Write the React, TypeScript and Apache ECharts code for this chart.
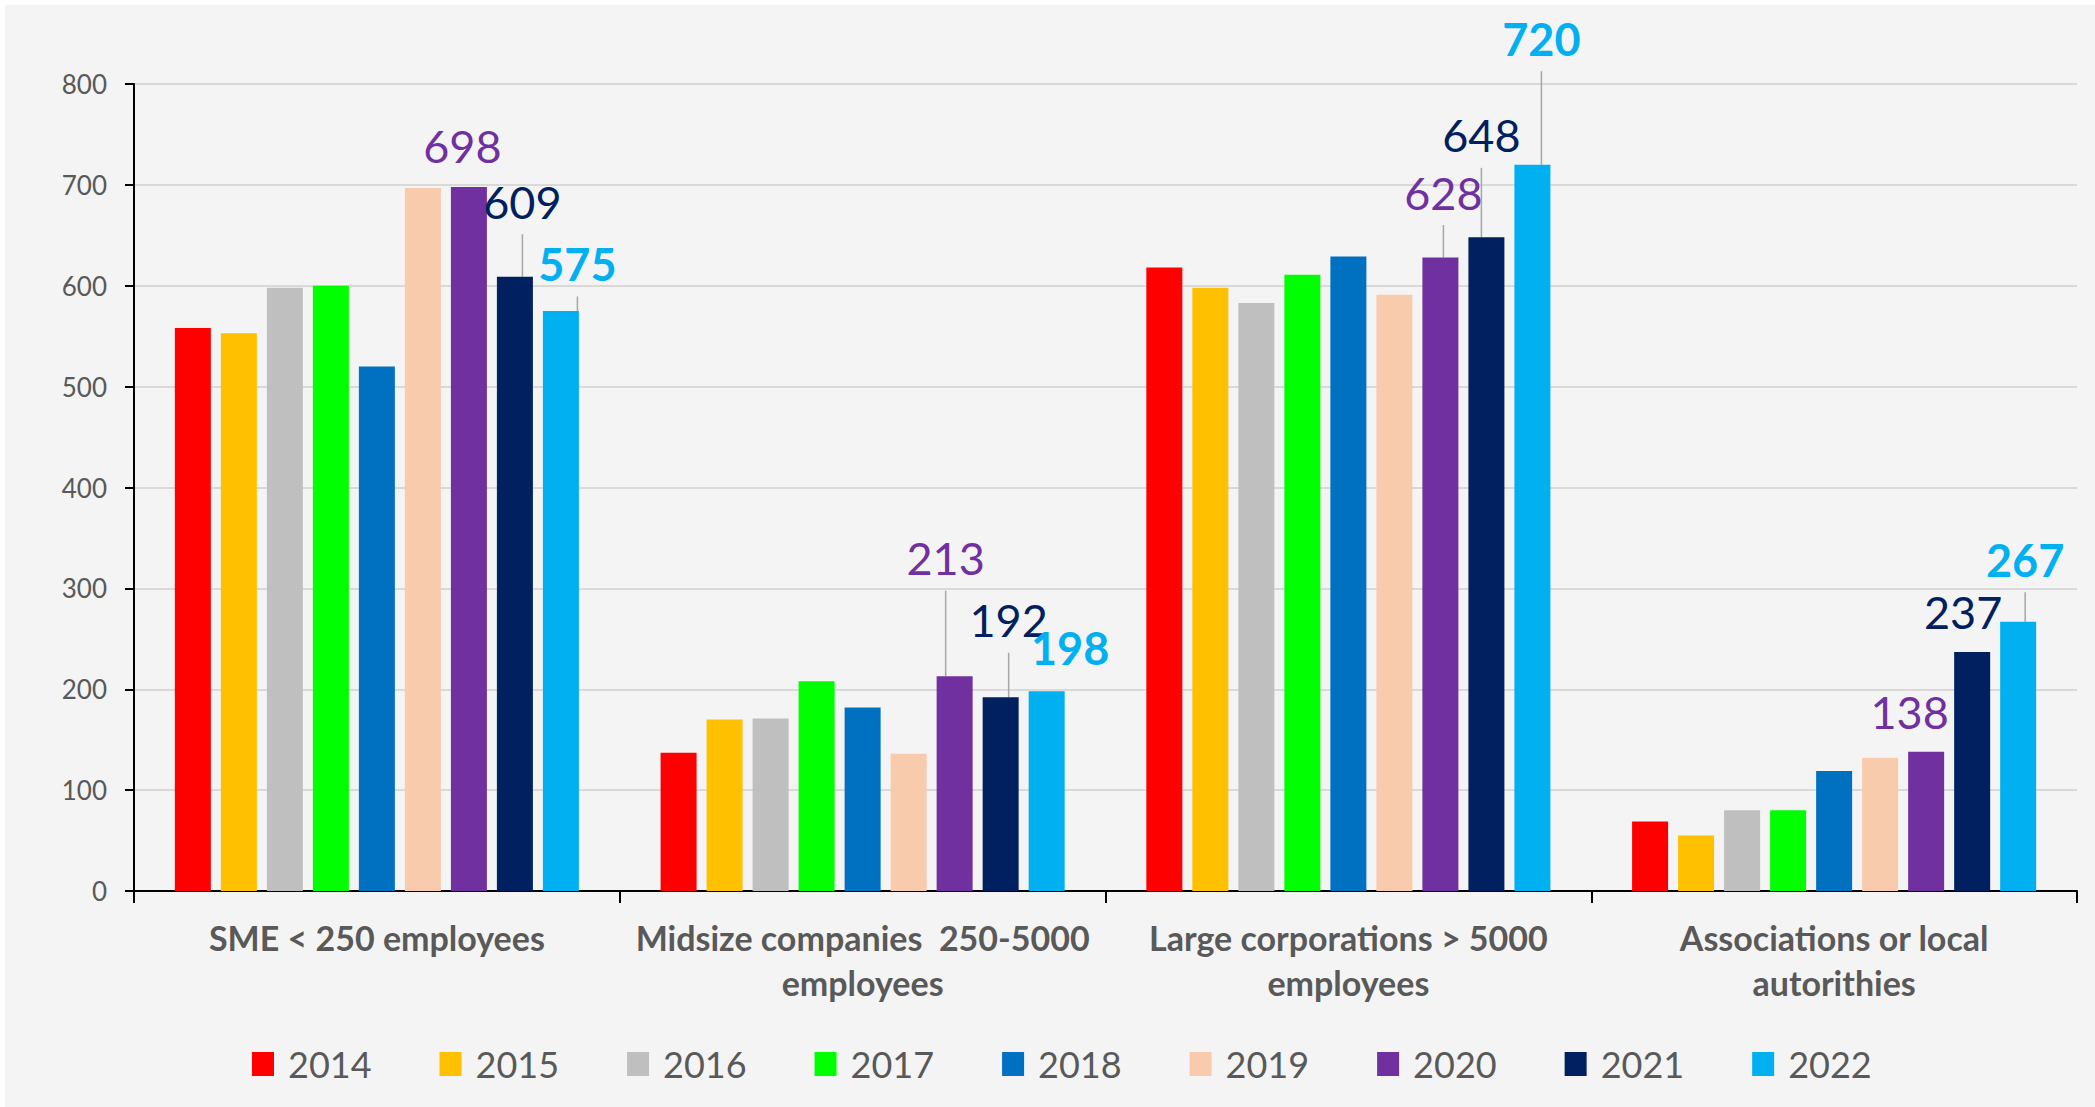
import React, { useEffect, useRef } from "react";
import * as echarts from "echarts";

const categories = [
  "SME < 250 employees",
  "Midsize companies  250-5000\nemployees",
  "Large corporations > 5000\nemployees",
  "Associations or local\nautorithies",
];
const years = ["2014", "2015", "2016", "2017", "2018", "2019", "2020", "2021", "2022"];
const v2014 = [558, 137, 618, 69];
const v2015 = [553, 170, 598, 55];
const v2016 = [598, 171, 583, 80];
const v2017 = [600, 208, 611, 80];
const v2018 = [520, 182, 629, 119];
const v2019 = [697, 136, 591, 132];
const v2020 = [698, 213, 628, 138];
const v2021 = [609, 192, 648, 237];
const v2022 = [575, 198, 720, 267];
const seriesValues = [v2014, v2015, v2016, v2017, v2018, v2019, v2020, v2021, v2022];
const yMin = 0;
const yMax = 800;
const yInterval = 100;

// styling
const colors = ["#ff0000", "#ffc000", "#bfbfbf", "#00ff00", "#0070c0", "#f8cbad", "#7030a0", "#002060", "#00b0f0"];
// label offsets (dx, dy) for labelled series 2020, 2021, 2022
const labelOffsets: Record<string, number[][]> = {
  "2020": [[-6.5, -3.5], [-9, -80.5], [3, -27.5], [-16.5, -2]],
  "2021": [[7.5, -37.5], [8, -39.5], [-5, -64.5], [-9, -2.5]],
  "2022": [[16.5, -9.5], [23.5, -5.5], [9, -88.5], [7, -24.5]],
};
const leaderLines: Record<string, boolean[]> = {
  "2020": [false, true, true, false],
  "2021": [true, true, true, false],
  "2022": [true, false, true, true],
};
const boldLabel: Record<string, boolean> = { "2020": false, "2021": false, "2022": true };

const FONT = "Lato";
const TEXT = "#595959";

export default function App() {
  const ref = useRef<HTMLDivElement>(null);
  useEffect(() => {
    if (!ref.current) return;
    const chart = echarts.init(ref.current, undefined, { renderer: "svg" });
    const series = years.map((y, si) => {
      const labelled = labelOffsets[y] !== undefined;
      const base: any = {
        name: y,
        type: "bar",
        barWidth: 36,
        barGap: "27.8%",
        itemStyle: { color: colors[si] },
        emphasis: { disabled: true },
        data: labelled
          ? seriesValues[si].map((v, i) => ({ value: v, labelLine: { show: leaderLines[y][i] } }))
          : seriesValues[si],
      };
      if (labelled) {
        base.label = {
          show: true,
          position: "top",
          distance: 5,
          color: colors[si],
          fontFamily: FONT,
          fontSize: 45,
          lineHeight: 45,
          fontWeight: boldLabel[y] ? "bold" : "normal",
          padding: [0, 0, 10, 0],
        };
        base.labelLine = {
          show: false,
          lineStyle: { color: "#a6a6a6", width: 1.5 },
        };
        base.labelLayout = (p: any) => ({
          dx: labelOffsets[y][p.dataIndex][0],
          dy: labelOffsets[y][p.dataIndex][1],
        });
      }
      return base;
    });
    chart.setOption({
      animation: false,
      color: colors,
      grid: { left: 134, right: 18, top: 84, bottom: 216, containLabel: false, outerBoundsMode: "none" },
      legend: {
        data: years,
        icon: "rect",
        itemWidth: 22,
        itemHeight: 24,
        itemGap: 68,
        padding: 0,
        left: 252,
        top: 1046,
        textStyle: { fontFamily: FONT, fontSize: 36, color: TEXT, padding: [0, 0, 0, 9] },
      },
      xAxis: {
        type: "category",
        data: categories,
        axisLine: { show: true, lineStyle: { color: "#000", width: 2 } },
        axisTick: { show: true, length: 12, interval: 0, lineStyle: { color: "#000", width: 2 } },
        axisLabel: {
          interval: 0,
          margin: 24,
          fontFamily: FONT,
          fontSize: 34,
          fontWeight: "bold",
          lineHeight: 45,
          color: TEXT,
        },
      },
      yAxis: {
        type: "value",
        min: yMin,
        max: yMax,
        interval: yInterval,
        axisLine: { show: true, lineStyle: { color: "#000", width: 2 } },
        axisTick: { show: true, length: 9, lineStyle: { color: "#000", width: 2 } },
        axisLabel: { margin: 27, fontFamily: FONT, fontSize: 26, color: TEXT },
        splitLine: { show: true, lineStyle: { color: "#d9d9d9", width: 2 } },
      },
      series,
    });
    return () => chart.dispose();
  }, []);
  return (
    <div
      ref={ref}
      style={{
        position: "fixed",
        left: 0,
        top: 0,
        width: 2095,
        height: 1107,
        background: "#f4f4f4",
        boxShadow: "inset 5px 5px 0 #ffffff",
      }}
    />
  );
}
